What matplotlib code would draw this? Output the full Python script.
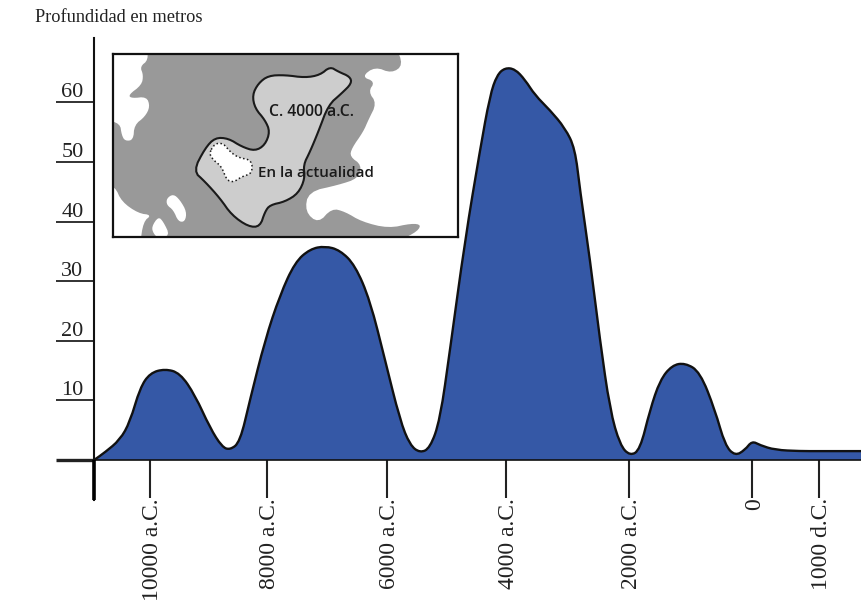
import numpy as np
import matplotlib
matplotlib.use("Agg")
import matplotlib.pyplot as plt
from matplotlib.patches import Polygon, PathPatch
from matplotlib.path import Path
from matplotlib.transforms import ScaledTranslation

# ---- data -------------------------------------------------------------
years = [-10957, -10769, -10513, -10342, -10171, -10000, -9744, -9487, -9231, -8974,
         -8769, -8632, -8462, -8291, -8034, -7783, -7533, -7283, -7033, -6783,
         -6533, -6283, -6033, -5782, -5614, -5445, -5277, -5109, -4941, -4689,
         -4437, -4269, -4151, -4017, -3854, -3691, -3528, -3285, -3041, -2878,
         -2797, -2634, -2472, -2309, -2146, -1984, -1821, -1659, -1496, -1301,
         -1089, -846, -602, -439, -276, -114, 0, 119, 343, 716, 1000, 1642]
depth = [0, 1.3, 3.4, 6.4, 12.1, 14.6, 15.3, 14.6, 10.9, 5.4,
         2.2, 1.7, 3.0, 10.1, 20.1, 27.7, 33.2, 35.4, 35.9, 35.2,
         32.7, 26.8, 16.8, 6.7, 2.5, 1.2, 2.0, 6.7, 18.5, 36.9,
         52.0, 61.2, 64.6, 65.8, 65.6, 63.8, 61.2, 58.7, 55.7, 52.3,
         45.3, 33.6, 20.1, 8.4, 2.5, 0.7, 1.7, 8.4, 13.4, 15.9,
         16.3, 14.8, 8.4, 2.5, 0.7, 1.7, 3.2, 2.5, 1.7, 1.5, 1.5, 1.5]

y_ticks = [0, 10, 20, 30, 40, 50, 60]
y_labels = ["", "10", "20", "30", "40", "50", "60"]
x_ticks = [-10000, -8000, -6000, -4000, -2000, 0, 1000]
x_labels = ["10000 a.C.", "8000 a.C.", "6000 a.C.", "4000 a.C.", "2000 a.C.", "0", "1000 d.C."]

# the time axis of the drawing is slightly uneven: calibration year -> pixel
cal_year = [-10957, -10000, -8000, -6000, -4000, -2000, 0, 1000, 1642]
cal_px = [94, 150, 267, 387, 506, 629, 752, 819, 862]

# inset map outlines
sea_outline = [(125, 0), (870, 0), (895, 60), (860, 85), (810, 65), (770, 95), (810, 110),
               (790, 140), (815, 175), (790, 225), (775, 260), (740, 310), (735, 335), (770, 360),
               (760, 400), (700, 420), (610, 440), (600, 500), (640, 535), (680, 490), (720, 500),
               (770, 530), (850, 550), (920, 535), (950, 540), (930, 565), (850, 600), (105, 600),
               (115, 530), (140, 510), (100, 505), (50, 470), (30, 425), (0, 420), (0, 225),
               (45, 235), (50, 270), (60, 288), (85, 285), (88, 240), (120, 215), (135, 185),
               (125, 155), (80, 160), (70, 150), (110, 120), (115, 90), (105, 65), (130, 45)]
island_a = [(185, 460), (205, 447), (225, 465), (245, 500), (240, 530), (220, 530), (205, 495), (185, 480)]
island_b = [(140, 545), (160, 515), (175, 530), (195, 572), (160, 580), (145, 565)]
ancient_lake = [(265, 378), (300, 310), (330, 278), (370, 280), (410, 305), (450, 318), (480, 300),
                (495, 260), (480, 225), (450, 190), (442, 150), (460, 115), (490, 92), (540, 90),
                (600, 98), (645, 90), (675, 65), (700, 80), (735, 95), (740, 115), (710, 145),
                (670, 180), (640, 260), (615, 320), (595, 360), (600, 400), (580, 445), (540, 470),
                (495, 480), (480, 500), (465, 545), (430, 545), (380, 510), (345, 460), (300, 410)]
modern_lake = [(312, 325), (330, 295), (355, 295), (375, 320), (400, 338), (440, 345), (442, 385),
               (410, 395), (385, 412), (365, 405), (350, 365), (325, 345)]

# ---- styles -----------------------------------------------------------
W, H = 862, 612
SERIF = "Liberation Serif"
BLUE = "#3558a6"

def fwd(v):
    return np.interp(v, cal_year, cal_px)

def inv(v):
    return np.interp(v, cal_px, cal_year)

def curve_path(xs, ys, close_to=None):
    """Smooth quadratic Bezier through the midpoints of the read points."""
    pts = np.column_stack([xs, ys]).astype(float)
    mids = (pts[:-1] + pts[1:]) / 2
    verts = [tuple(pts[0]), tuple(mids[0])]
    codes = [Path.MOVETO, Path.LINETO]
    for i in range(1, len(pts) - 1):
        verts += [tuple(pts[i]), tuple(mids[i])]
        codes += [Path.CURVE3, Path.CURVE3]
    verts.append(tuple(pts[-1]))
    codes.append(Path.LINETO)
    if close_to is not None:
        verts += [(xs[-1], close_to), (xs[0], close_to), (xs[0], close_to)]
        codes += [Path.LINETO, Path.LINETO, Path.CLOSEPOLY]
    return Path(verts, codes)

fig = plt.figure(figsize=(W / 100, H / 100), dpi=100, facecolor="white")
ax = fig.add_axes([94 / W, (H - 500) / H, (862 - 94) / W, (500 - 38) / H])
ax.set_facecolor("none")
ax.set_xscale("function", functions=(fwd, inv))
ax.set_xlim(cal_year[0], cal_year[-1])
ax.set_ylim(-6.7, 70.8)

ax.add_patch(PathPatch(curve_path(years, depth, close_to=0), fc=BLUE, ec="none", zorder=2))
ax.add_patch(PathPatch(curve_path(years, depth), fc="none", ec="#111111", lw=1.7,
                       joinstyle="round", zorder=3))

for s in ("top", "right"):
    ax.spines[s].set_visible(False)
ax.spines["bottom"].set_position(("data", 0))
ax.spines["bottom"].set_linewidth(1.2)
ax.spines["bottom"].set_color("#111111")
ax.spines["left"].set_linewidth(1.5)
ax.spines["left"].set_color("#111111")

ax.set_xticks(x_ticks)
ax.set_xticklabels(x_labels, rotation=90, family=SERIF, fontsize=17, color="#222222")
ax.xaxis.set_minor_locator(matplotlib.ticker.NullLocator())
ax.tick_params(axis="x", length=27.4, width=1.5, pad=0, color="#222222")
for lab in ax.get_xticklabels():
    lab.set_transform(lab.get_transform() + ScaledTranslation(3 / 100, 0, fig.dpi_scale_trans))

ax.set_yticks(y_ticks)
ax.set_yticklabels(y_labels, family=SERIF, fontsize=16, color="#222222", va="bottom")
ax.tick_params(axis="y", length=27.4, width=1.3, pad=-19.8, color="#222222")
zero_tick = ax.yaxis.get_major_ticks()[0]
zero_tick.tick1line.set_markeredgewidth(2.4)
zero_tick.tick1line.set_color("black")

# heavy stub of the vertical axis below zero
ax.plot([cal_year[0], cal_year[0]], [0, -6.7], color="black", lw=2.6,
        clip_on=False, solid_capstyle="butt", zorder=5)

fig.text(35 / W, 1 - 17 / H, "Profundidad en metros", family=SERIF, fontsize=13.2,
         color="#222222", va="center", ha="left")

# ---- inset map --------------------------------------------------------
def smooth(points, rounds=2):
    p = np.asarray(points, dtype=float)
    for _ in range(rounds):
        q = np.roll(p, -1, axis=0)
        p = np.column_stack([0.75 * p + 0.25 * q, 0.25 * p + 0.75 * q]).reshape(-1, 2)
    return p

inset = fig.add_axes([113 / W, (H - 237) / H, (458 - 113) / W, (237 - 54) / H])
inset.set_xlim(24, 1059)
inset.set_ylim(576, 27)
inset.set_xticks([])
inset.set_yticks([])
inset.set_facecolor("white")
for s in inset.spines.values():
    s.set_linewidth(1.6)
    s.set_color("#111111")
    s.set_zorder(10)

inset.add_patch(Polygon(smooth(sea_outline), closed=True, fc="#999999", ec="none", zorder=1))
inset.add_patch(Polygon(smooth(island_a), closed=True, fc="white", ec="none", zorder=2))
inset.add_patch(Polygon(smooth(island_b), closed=True, fc="white", ec="none", zorder=2))
inset.add_patch(Polygon(smooth(ancient_lake), closed=True, fc="#cdcdcd", ec="#1a1a1a", lw=1.5, zorder=3))
inset.add_patch(Polygon(smooth(modern_lake), closed=True, fc="white", ec="#1a1a1a", lw=1.1,
                        ls=(0, (1, 1.6)), zorder=4))
inset.text(620, 200, "C. 4000 a.C.", family="Open Sans", fontsize=11.3, weight=600, color="#1a1a1a",
           ha="center", va="center", zorder=6)
inset.text(632, 383, "En la actualidad", family="Open Sans", fontsize=10.9, weight=600, color="#1a1a1a",
           ha="center", va="center", zorder=6)

fig.savefig("out.png", dpi=100)
